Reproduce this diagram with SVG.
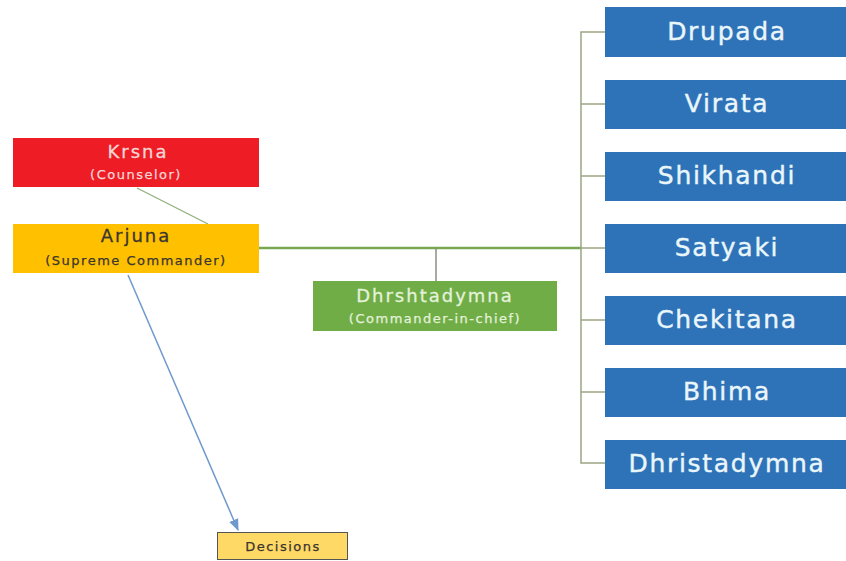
<svg xmlns="http://www.w3.org/2000/svg" width="846" height="561" viewBox="0 0 846 561">
<style>
.big{font-family:"DejaVu Sans",sans-serif;font-size:18px;letter-spacing:2px;text-anchor:middle;stroke-width:0.3}
.small{font-family:"DejaVu Sans",sans-serif;font-size:13px;letter-spacing:1.5px;text-anchor:middle;stroke-width:0.25}
.blue rect{fill:#2e73b8}
.blue text{font-family:"DejaVu Sans",sans-serif;font-size:25px;letter-spacing:1.7px;text-anchor:middle;fill:#eaf6fa;stroke:#eaf6fa;stroke-width:0.4}
.tick{stroke:#9aa585;stroke-width:1.5;fill:none}
</style>
<defs>
<marker id="ah" viewBox="0 0 10 10" refX="9" refY="5" markerWidth="8" markerHeight="8" orient="auto">
<path d="M0,1 L10,5 L0,9 z" fill="#6f99cc"/>
</marker>
</defs>
<rect width="846" height="561" fill="#ffffff"/>
<g id="connectors">
<line x1="137" y1="188" x2="208" y2="224" stroke="#8fae78" stroke-width="1.2"/>
<line x1="259" y1="248" x2="581" y2="248" stroke="#77a74f" stroke-width="2.5"/>
<line x1="436" y1="248" x2="436" y2="281" stroke="#8a8f80" stroke-width="1.5"/>
<path class="tick" d="M605,32 H581 V463 H605 M581,104 H605 M581,176 H605 M581,248 H605 M581,320 H605 M581,392 H605"/>
<line x1="128" y1="275" x2="238" y2="530" stroke="#6f99cc" stroke-width="1.5" marker-end="url(#ah)"/>
</g>
<g id="krsna">
<rect x="13" y="138" width="246" height="49" fill="#ee1c25"/>
<text class="big" x="138" y="158" fill="#f6d6d6" stroke="#f6d6d6">Krsna</text>
<text class="small" x="136" y="179" fill="#f6d6d6" stroke="#f6d6d6">(Counselor)</text>
</g>
<g id="arjuna">
<rect x="13" y="224" width="246" height="49" fill="#ffc000"/>
<text class="big" x="136" y="242" fill="#3a3530" stroke="#3a3530">Arjuna</text>
<text class="small" x="136" y="265" fill="#3a3530" stroke="#3a3530">(Supreme Commander)</text>
</g>
<g id="dhrshtadymna">
<rect x="313" y="281" width="244" height="50" fill="#70ad47"/>
<text class="big" x="435" y="302" fill="#e4f2da" stroke="#e4f2da">Dhrshtadymna</text>
<text class="small" x="435" y="323" fill="#e4f2da" stroke="#e4f2da">(Commander-in-chief)</text>
</g>
<g id="drupada" class="blue"><rect x="605" y="7" width="241" height="50"/><text x="727" y="40">Drupada</text></g>
<g id="virata" class="blue"><rect x="605" y="80" width="241" height="49"/><text x="727" y="112">Virata</text></g>
<g id="shikhandi" class="blue"><rect x="605" y="152" width="241" height="49"/><text x="727" y="184">Shikhandi</text></g>
<g id="satyaki" class="blue"><rect x="605" y="224" width="241" height="49"/><text x="727" y="256">Satyaki</text></g>
<g id="chekitana" class="blue"><rect x="605" y="296" width="241" height="49"/><text x="727" y="328">Chekitana</text></g>
<g id="bhima" class="blue"><rect x="605" y="368" width="241" height="49"/><text x="727" y="400">Bhima</text></g>
<g id="dhristadymna" class="blue"><rect x="605" y="440" width="241" height="49"/><text x="727" y="472">Dhristadymna</text></g>
<g id="decisions">
<rect x="217.5" y="532.5" width="130" height="27" fill="#ffd966" stroke="#555" stroke-width="1"/>
<text x="283" y="551" font-family="DejaVu Sans, sans-serif" font-size="13" letter-spacing="1.5" text-anchor="middle" fill="#3a3530" stroke="#3a3530" stroke-width="0.25">Decisions</text>
</g>
</svg>
